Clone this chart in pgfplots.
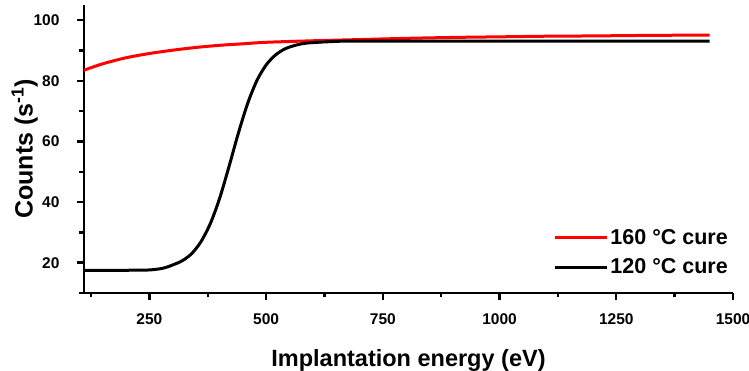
\documentclass[border=0pt]{standalone}
\usepackage{pgfplots}
\pgfplotsset{compat=1.18}
\usepackage{fontspec}
\setmainfont{Liberation Sans}
\begin{document}
\begin{tikzpicture}[x=1pt,y=1pt]
\begin{axis}[
  scale only axis,
  width=649pt, height=288pt,
  xmin=110, xmax=1500, ymin=10, ymax=105,
  axis lines*=left,
  axis line style={line width=2.6pt},
  xtick={250,500,...,1500},
  minor xtick={125,375,...,1375},
  ytick={20,40,...,100},
  minor ytick={10,30,...,90},
  tick style={line width=2.4pt, black},
  major tick length=7pt, minor tick length=4.5pt,
  tick align=outside,
  /pgf/number format/assume math mode=true,
  /pgf/number format/1000 sep={},
  ticklabel style={font=\fontsize{15.5}{18}\selectfont\bfseries},
  xticklabel style={yshift=-10pt},
  yticklabel style={xshift=-14pt},
  xlabel={Implantation energy (eV)},
  ylabel={Counts (s\textsuperscript{-1})},
  xlabel style={font=\fontsize{23.5}{28}\selectfont\bfseries, yshift=-18pt},
  ylabel style={font=\fontsize{25}{29}\selectfont\bfseries, yshift=-11pt},
  legend style={draw=none, fill=none, font=\fontsize{21.5}{25}\selectfont\bfseries,
    at={(1,0.047)}, anchor=south east, row sep=9pt,
    legend cell align=left},
  legend image code/.code={\draw[#1, line width=3pt] (0pt,0pt) -- (52pt,0pt);},
  clip=false,
]
\addplot[red, line width=3pt, smooth] coordinates {
(110,83.5) (150,85.6) (200,87.6) (250,89.0) (300,90.1) (350,91.0) (400,91.7)
(450,92.2) (500,92.7) (600,93.2) (700,93.6) (800,94.0) (900,94.3) (1000,94.5)
(1100,94.7) (1200,94.8) (1300,94.95) (1450,95.1)};
\addlegendentry{160 \textdegree C cure}
\addplot[black, line width=3pt, smooth] coordinates {
(110,17.5) (200,17.5) (250,17.6) (280,18.2) (300,19.25) (320,20.6) (340,22.9)
(360,26.8) (380,32.7) (400,41.0) (420,51.4) (440,62.4) (460,72.3) (480,80.0)
(500,85.2) (520,88.5) (540,90.5) (560,91.6) (580,92.3) (600,92.6) (650,93.0)
(700,93.1) (1000,93.1) (1450,93.1)};
\addlegendentry{120 \textdegree C cure}
\coordinate (sw) at (rel axis cs:0,0);
\end{axis}
\pgfresetboundingbox
\path[use as bounding box] ([xshift=-84pt,yshift=-78pt]sw) rectangle ++(749pt,371pt);
\end{tikzpicture}
\end{document}
